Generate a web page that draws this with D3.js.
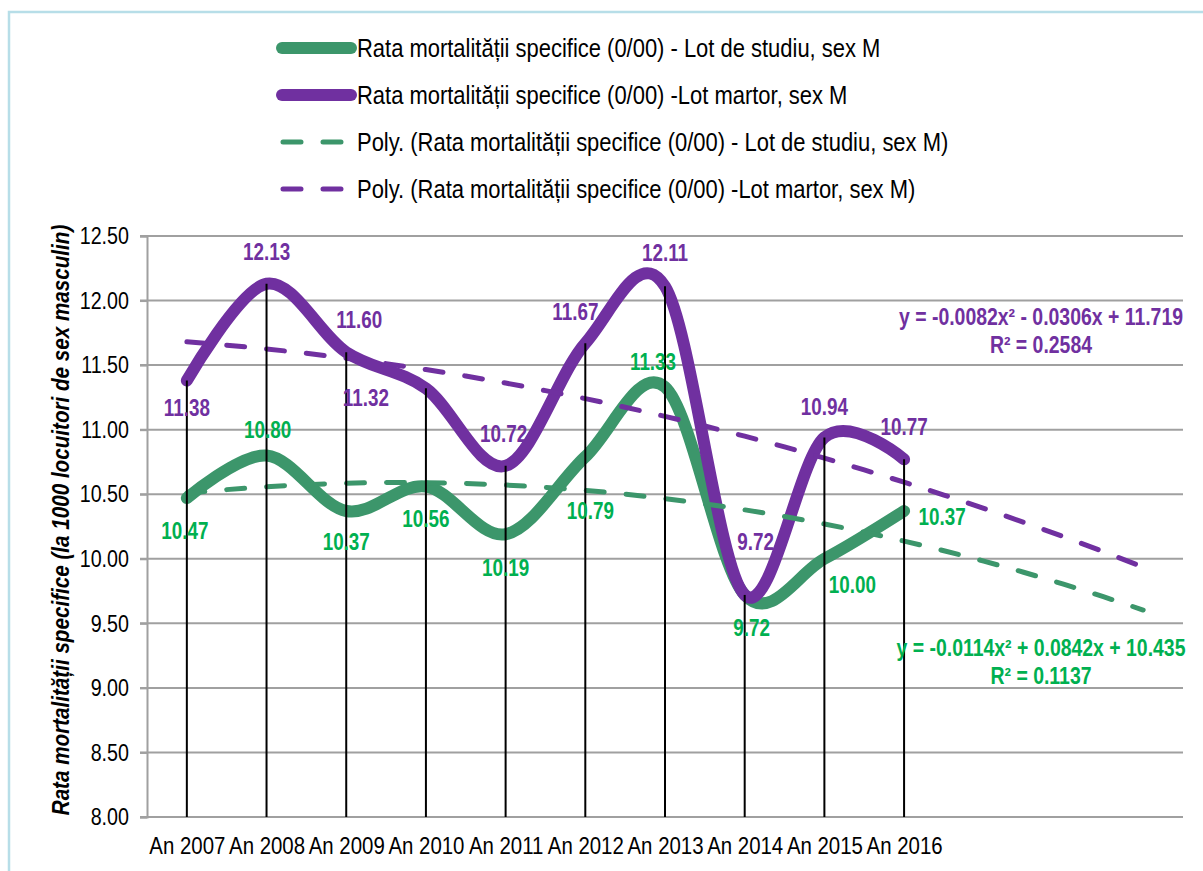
<!DOCTYPE html>
<html>
<head>
<meta charset="utf-8">
<script src="https://cdn.jsdelivr.net/npm/d3@7"></script>
<style>
  body { margin: 0; background: #fff; }
  text { font-family: "Liberation Sans", Arial, sans-serif; }
</style>
</head>
<body>
<svg width="1203" height="871"></svg>
<script>
const svg = d3.select('svg');

// data
const years = ['An 2007', 'An 2008', 'An 2009', 'An 2010', 'An 2011',
               'An 2012', 'An 2013', 'An 2014', 'An 2015', 'An 2016'];
const studiu = [10.47, 10.80, 10.37, 10.56, 10.19, 10.79, 11.33, 9.72, 10.00, 10.37];
const martor = [11.38, 12.13, 11.60, 11.32, 10.72, 11.67, 12.11, 9.72, 10.94, 10.77];
// polynomial trendline coefficients as printed: a*x^2 + b*x + c
const polyStudiu = [-0.0114, 0.0842, 10.435];
const polyMartor = [-0.0082, -0.0306, 11.719];
const r2Studiu = '0.1137';
const r2Martor = '0.2584';
const yTicks = [8, 8.5, 9, 9.5, 10, 10.5, 11, 11.5, 12, 12.5];
const legendNames = [
  'Rata mortalității specifice (0/00) - Lot de studiu, sex M',
  'Rata mortalității specifice (0/00) -Lot martor, sex M',
  'Poly. (Rata mortalității specifice (0/00) - Lot de studiu, sex M)',
  'Poly. (Rata mortalității specifice (0/00) -Lot martor, sex M)'
];

// label offsets (dx, dy from the point)
const offMartor = [[0,27],[0,-32],[13,-32],[-60,9],[-2,-32],[-10,-31],[0,-34],[11,-53],[0,-31],[0,-33]];
const offStudiu = [[-2,33],[1,-26],[0,31],[0,32],[0,33],[5,54],[-12,-25],[7,33],[28,26],[38,6]];

const purple = '#7030a0', green = '#3c966b', greenLbl = '#00b050';
const narrow = 0.82;
const plotL = 147, plotR = 1183, plotT = 236, plotB = 817;

// border
svg.append('path')
  .attr('d', `M9,871 V12 H1203`)
  .attr('fill', 'none').attr('stroke', '#b7dee8').attr('stroke-width', 2.5);

const x = d3.scaleLinear().domain([0.5, 13.5]).range([plotL, plotR]);
const y = d3.scaleLinear().domain([8, 12.5]).range([plotB, plotT]);

// gridlines
svg.append('g').selectAll('line').data(yTicks).enter().append('line')
  .attr('x1', plotL - 7).attr('x2', plotR)
  .attr('y1', d => y(d)).attr('y2', d => y(d))
  .attr('stroke', '#a0a0a0').attr('stroke-width', 2);

// y axis
const yAxis = svg.append('g')
  .attr('transform', `translate(${plotL},0)`)
  .call(d3.axisLeft(y).tickValues(yTicks).tickFormat(d3.format('.2f')).tickSize(7).tickPadding(15));
yAxis.select('.domain').attr('stroke', '#a0a0a0').attr('stroke-width', 2);
yAxis.selectAll('.tick line').attr('stroke', '#a0a0a0').attr('stroke-width', 2);
yAxis.selectAll('text')
  .attr('font-family', '"Liberation Sans", Arial, sans-serif')
  .attr('font-size', 24).attr('fill', '#000')
  .attr('transform', `scale(${narrow},1)`);

// x axis
const xAxis = svg.append('g')
  .attr('transform', `translate(0,${plotB})`)
  .call(d3.axisBottom(x).tickValues(d3.range(1, years.length + 1))
    .tickFormat(d => years[d - 1]).tickSize(0).tickPadding(20));
xAxis.select('.domain').remove();
xAxis.selectAll('text')
  .attr('font-family', '"Liberation Sans", Arial, sans-serif')
  .attr('font-size', 24).attr('fill', '#000')
  .attr('transform', `scale(0.85,1)`);

// y title
svg.append('text')
  .attr('transform', `translate(69,520) rotate(-90) scale(0.86,1)`)
  .attr('text-anchor', 'middle')
  .attr('font-size', 24).attr('font-weight', 'bold').attr('font-style', 'italic')
  .text('Rata mortalității specifice (la 1000 locuitori de sex masculin)');

// series lines
const line = d3.line()
  .x((d, i) => x(i + 1))
  .y(d => y(d))
  .curve(d3.curveCardinal.tension(0));

[[studiu, green], [martor, purple]].forEach(([data, col]) => {
  svg.append('path').datum(data)
    .attr('d', line)
    .attr('fill', 'none').attr('stroke', col)
    .attr('stroke-width', 12).attr('stroke-linecap', 'round').attr('stroke-linejoin', 'round');
});

// trendlines
const poly = p => t => p[0] * t * t + p[1] * t + p[2];
const tSteps = d3.range(1, 13.001, 0.25);
const trendLine = d3.line().x(t => x(t[0])).y(t => y(t[1]));
[[polyStudiu, green], [polyMartor, purple]].forEach(([p, col]) => {
  const f = poly(p);
  svg.append('path').datum(tSteps.map(t => [t, f(t)]))
    .attr('d', trendLine)
    .attr('fill', 'none').attr('stroke', col)
    .attr('stroke-width', 5).attr('stroke-dasharray', '18,22').attr('stroke-linecap', 'round');
});

// drop lines
svg.append('g').selectAll('line').data(years).enter().append('line')
  .attr('x1', (d, i) => x(i + 1)).attr('x2', (d, i) => x(i + 1))
  .attr('y1', (d, i) => y(Math.max(studiu[i], martor[i])))
  .attr('y2', plotB)
  .attr('stroke', '#000').attr('stroke-width', 2);

// data labels
function labels(data, off, col) {
  svg.append('g').selectAll('text').data(data).enter().append('text')
    .attr('transform', (d, i) =>
      `translate(${x(i + 1) + off[i][0]},${y(d) + off[i][1]}) scale(${narrow},1)`)
    .attr('dy', '0.36em')
    .attr('text-anchor', 'middle')
    .attr('font-size', 23).attr('font-weight', 'bold').attr('fill', col)
    .text(d => d.toFixed(2));
}
labels(martor, offMartor, purple);
labels(studiu, offStudiu, greenLbl);

// trend equations
function eqText(p) {
  const s = v => (v < 0 ? '- ' : '+ ') + Math.abs(v);
  return `y = ${p[0] < 0 ? '-' : ''}${Math.abs(p[0])}x² ${s(p[1])}x ${s(p[2])}`;
}
[[polyMartor, r2Martor, purple, 325], [polyStudiu, r2Studiu, greenLbl, 656]].forEach(([p, r2, col, by]) => {
  const g = svg.append('g').attr('fill', col).attr('font-size', 23).attr('font-weight', 'bold')
    .attr('text-anchor', 'middle');
  g.append('text').attr('transform', `translate(1041,${by}) scale(0.845,1)`).text(eqText(p));
  g.append('text').attr('transform', `translate(1041,${by + 28}) scale(0.845,1)`).text(`R² = ${r2}`);
});

// legend
const legend = svg.append('g');
const legendRows = legend.selectAll('g').data(legendNames).enter().append('g')
  .attr('transform', (d, i) => `translate(0,${48 + i * 47})`);
legendRows.append('line')
  .attr('x1', (d, i) => i < 2 ? 282 : 283).attr('x2', (d, i) => i < 2 ? 351 : 341)
  .attr('stroke', (d, i) => i % 2 === 0 ? green : purple)
  .attr('stroke-width', (d, i) => i < 2 ? 12 : 5)
  .attr('stroke-linecap', 'round')
  .attr('stroke-dasharray', (d, i) => i < 2 ? null : '18,22');
legendRows.append('text')
  .attr('transform', `translate(357,0) scale(0.845,1)`)
  .attr('dy', '0.36em')
  .attr('font-size', 26).attr('fill', '#000')
  .text(d => d);
</script>
</body>
</html>
